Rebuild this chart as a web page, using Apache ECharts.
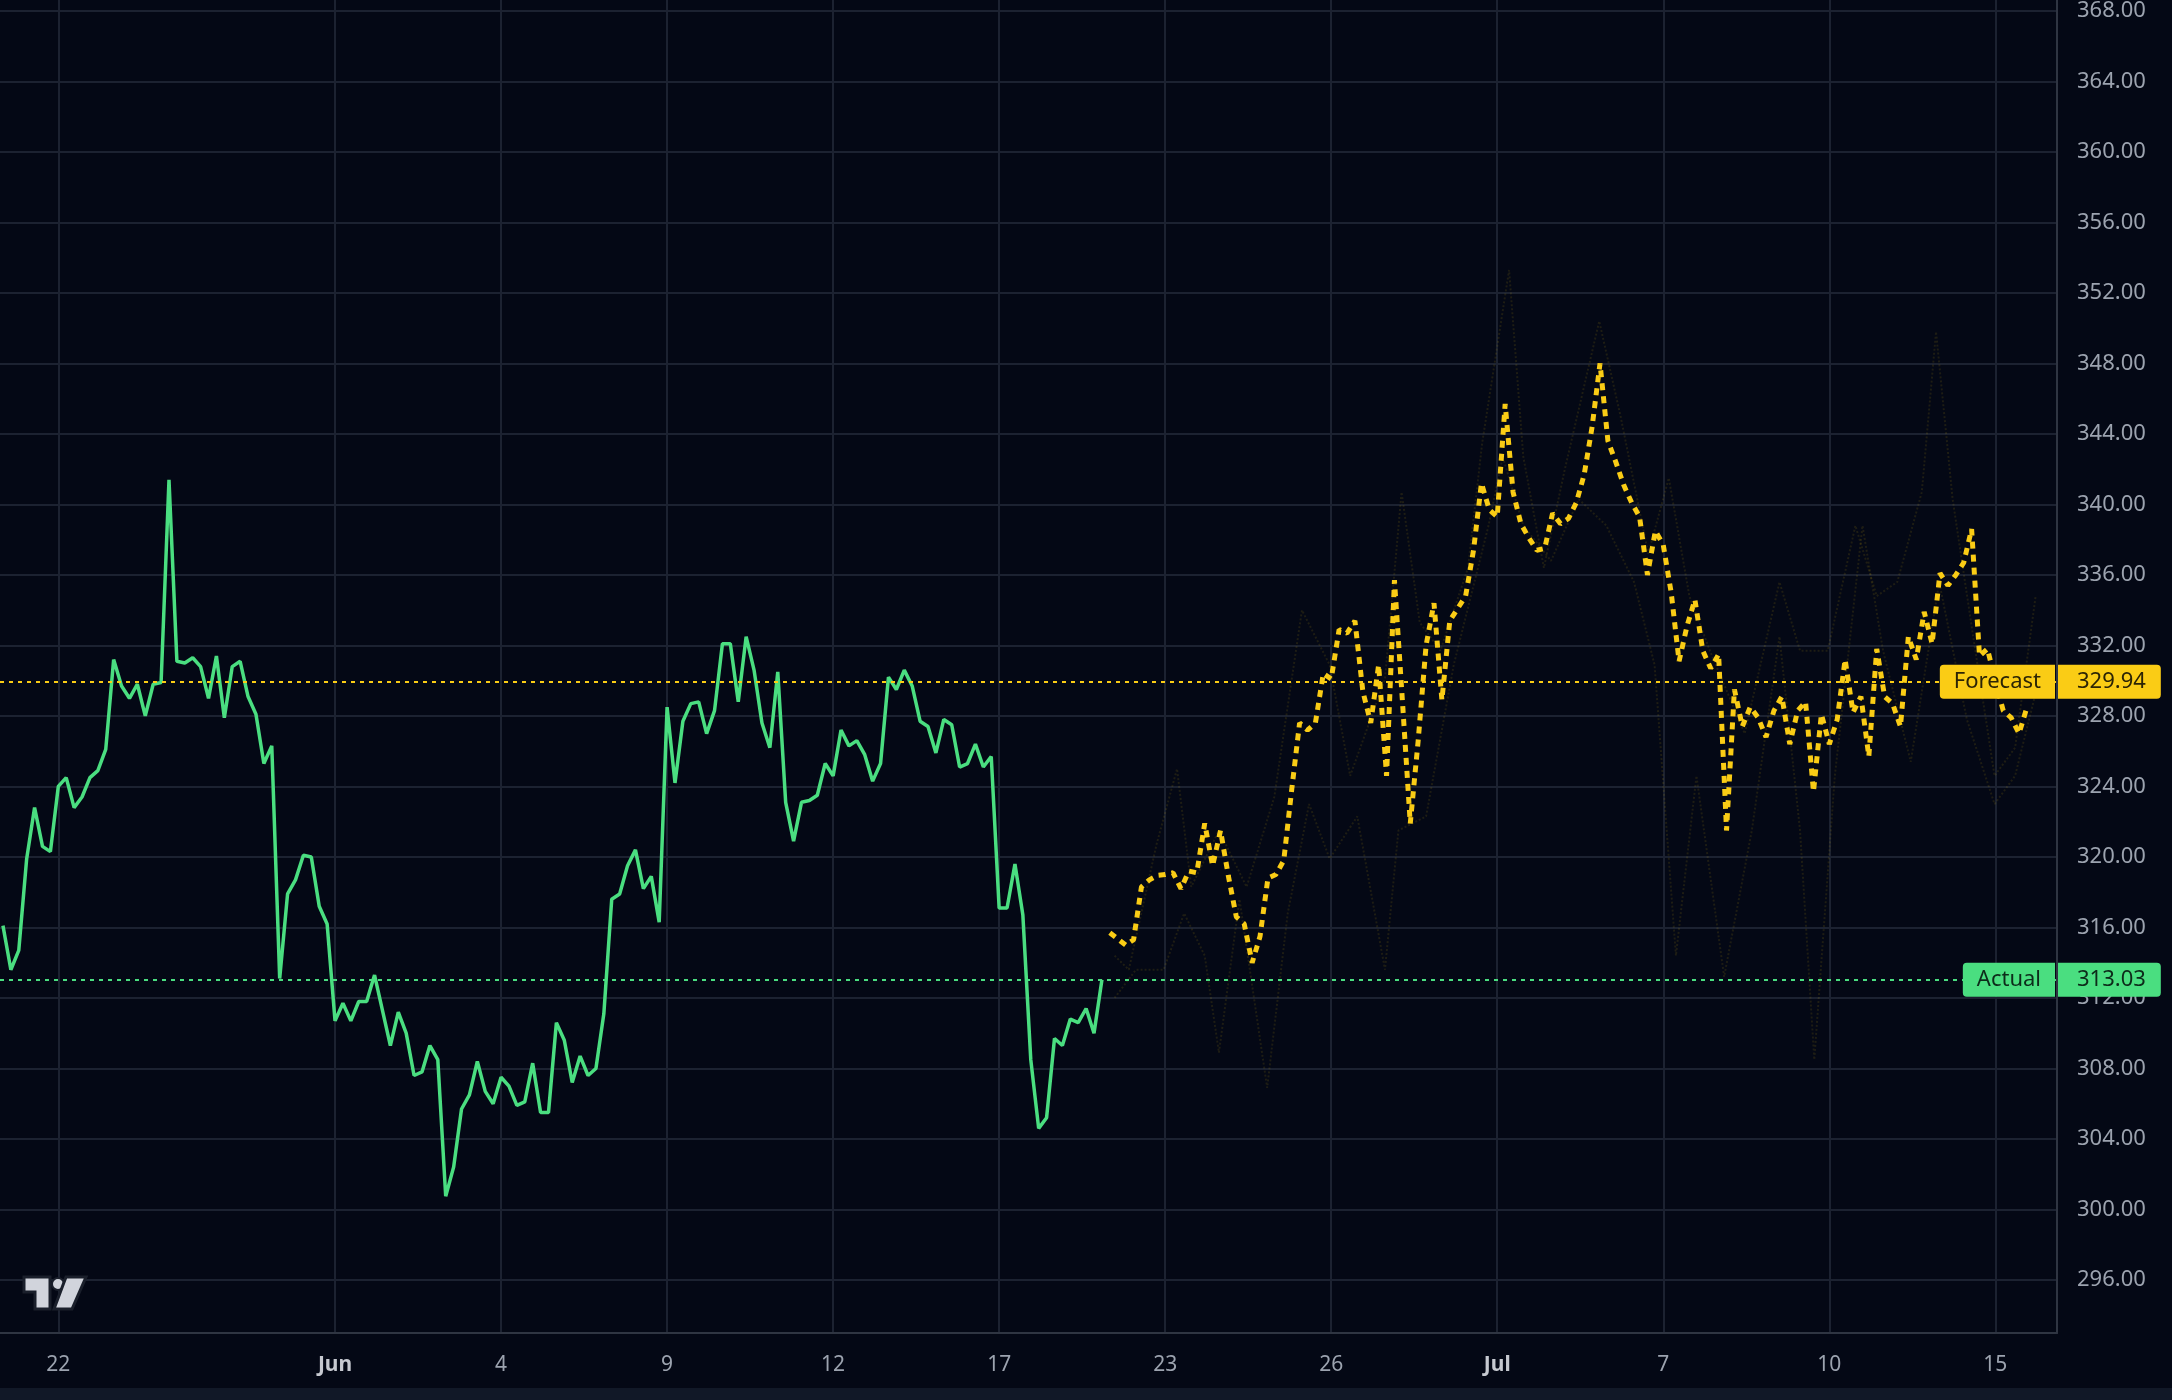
<!DOCTYPE html>
<html><head><meta charset="utf-8">
<script src="https://cdn.jsdelivr.net/npm/echarts@6/dist/echarts.min.js"></script>
<style>html,body{margin:0;padding:0;background:#040815;overflow:hidden}#c{width:2172px;height:1400px}</style>
</head><body><div id="c"></div>
<script>
// bar index (7 bars per trading day) -> price
const actual = [316.1,313.6,314.7,319.9,322.8,320.6,320.3,324.0,324.5,322.8,
323.4,324.5,324.9,326.1,331.2,329.7,329.0,329.8,328.0,329.8,
329.9,341.4,331.1,331.0,331.3,330.8,329.0,331.4,327.9,330.8,
331.1,329.1,328.1,325.3,326.3,313.1,317.9,318.7,320.1,320.0,
317.2,316.2,310.7,311.7,310.7,311.8,311.8,313.3,311.3,309.3,
311.2,310.0,307.6,307.8,309.3,308.5,300.75,302.4,305.7,306.5,
308.4,306.7,306.0,307.5,307.0,305.9,306.1,308.3,305.5,305.5,
310.6,309.6,307.2,308.7,307.6,308.0,311.1,317.6,317.9,319.5,
320.4,318.2,318.9,316.3,328.5,324.2,327.7,328.7,328.8,327.0,
328.3,332.1,332.1,328.8,332.5,330.6,327.6,326.2,330.5,323.1,
320.9,323.1,323.2,323.5,325.3,324.6,327.2,326.3,326.6,325.8,
324.3,325.3,330.2,329.5,330.6,329.7,327.7,327.4,325.9,327.8,
327.5,325.1,325.3,326.4,325.1,325.7,317.1,317.1,319.6,316.7,
308.5,304.6,305.2,309.7,309.3,310.8,310.6,311.4,310.0,313.03];
const forecastStart = 140;
const forecast = [315.7,315.35,315.0,315.3,318.3,318.7,318.95,319.0,319.1,318.2,
319.2,319.1,321.9,319.5,321.5,318.9,316.6,316.2,314.0,315.5,
318.8,319.0,319.8,323.8,327.6,327.2,327.6,330.4,330.1,332.9,
332.7,333.4,329.4,327.6,330.9,324.6,335.7,328.9,321.9,326.6,
332.0,334.4,328.9,333.4,334.1,334.8,337.4,341.2,339.7,339.3,
345.7,340.7,338.9,338.1,337.4,337.5,339.5,338.9,339.2,340.1,
341.7,344.4,348.0,343.6,342.4,341.1,340.1,339.3,336.0,338.5,
337.7,335.0,331.1,333.1,334.6,331.7,330.7,331.5,321.5,329.5,
327.4,328.5,327.9,326.8,328.3,329.1,326.4,328.3,328.8,323.7,
328.1,326.4,327.8,331.2,328.2,329.1,325.7,331.8,329.1,328.7,
327.4,332.5,331.2,333.9,332.1,336.1,335.4,336.0,336.7,338.6,
331.4,331.8,330.0,328.3,327.9,327.0,328.5];
// faint forecast range lines: [bar index, price]
const bandUpper = [[140.6,314.4],[142.4,313.6],[145.9,320.7],[148.5,325.0],[150.3,318.3],[153.8,321.5],[157.3,318.3],[160.8,323.4],[164.3,334.0],[167.8,330.9],[170.4,324.6],[174.8,330.1],[176.9,340.7],[179.2,333.3],[181.8,331.7],[185.3,336.4],[187.1,343.5],[190.5,353.3],[192.3,342.7],[194.9,336.4],[197.5,341.9],[201.9,350.4],[204.6,345.0],[208.1,337.2],[210.7,341.5],[213.3,334.8],[215.9,331.7],[220.3,327.0],[224.7,335.6],[227.3,331.7],[230.8,331.7],[234.3,338.8],[237.0,334.8],[239.6,335.6],[242.7,340.7],[244.5,349.8],[246.6,340.3],[249.2,332.5],[251.9,324.6],[254.5,326.2],[257.1,334.8]];
const bandLower = [[140.6,312.0],[143.3,313.6],[146.8,313.6],[149.4,316.8],[152.0,314.4],[153.8,308.9],[156.4,317.6],[159.9,306.9],[162.5,316.8],[165.2,323.0],[167.8,319.9],[171.3,322.3],[174.8,313.6],[176.5,321.5],[180.0,322.3],[183.5,330.9],[187.9,338.8],[189.7,342.7],[192.3,338.8],[195.8,336.8],[199.3,340.3],[202.8,338.8],[206.3,335.6],[208.9,330.9],[211.6,314.4],[214.2,324.6],[217.7,313.2],[221.2,321.5],[224.7,332.5],[227.3,321.5],[229.1,308.5],[231.7,324.6],[235.2,338.8],[237.8,331.7],[241.3,325.4],[244.9,335.6],[248.4,327.8],[251.9,323.0],[254.5,324.6],[257.1,329.3]];
const xTickPos = [7,42,63,84,105,126,147,168,189,210,231,252];
const xTickLabels = ['22','Jun','4','9','12','17','23','26','Jul','7','10','15'];
const monthLabels = ['Jun','Jul'];
const yTicks = [296,300,304,308,312,316,320,324,328,332,336,340,344,348,352,356,360,364,368];
const forecastLast = 329.94;
const actualLast = 313.03;

const FONT = "'Noto Sans', 'DejaVu Sans', sans-serif";
const GREEN = '#4ade80', YELLOW = '#facc15';
const chart = echarts.init(document.getElementById('c'), null, {renderer:'canvas'});
const xMin = -0.374, xMax = 259.8;
chart.setOption({
  backgroundColor:'#040815',
  animation:false,
  grid:{left:0,right:115,top:0,bottom:67,containLabel:false,outerBoundsMode:'none'},
  xAxis:{type:'value',min:xMin,max:xMax,
    axisLine:{show:true,onZero:false,lineStyle:{color:'#2f3542',width:2}},
    axisTick:{show:false,customValues:xTickPos},
    splitLine:{show:true,lineStyle:{color:'#1c2231',width:2}},
    axisLabel:{customValues:xTickPos,margin:22,color:'#9ca3af',fontSize:21,fontFamily:FONT,
      formatter:function(v){const k=xTickPos.indexOf(Math.round(v));const t=xTickLabels[k];return monthLabels.indexOf(t)>=0?'{m|'+t+'}':t;},
      rich:{m:{fontWeight:'bold',color:'#c6c9d0',fontSize:21,fontFamily:FONT}}}
  },
  yAxis:{type:'value',position:'right',min:292.99,max:368.62,scale:true,
    axisLine:{show:true,onZero:false,lineStyle:{color:'#2f3542',width:2}},
    axisTick:{show:false,customValues:yTicks},
    splitLine:{show:true,lineStyle:{color:'#1c2231',width:2}},
    axisLabel:{customValues:yTicks,margin:20,color:'#9ca3af',fontSize:22,fontFamily:FONT,align:'left',
      formatter:function(v){return v.toFixed(2);}}
  },
  series:[
    {type:'line',data:bandUpper,symbol:'none',silent:true,z:1,lineStyle:{color:'rgba(250,204,21,0.11)',width:2,type:'dotted'}},
    {type:'line',data:bandLower,symbol:'none',silent:true,z:1,lineStyle:{color:'rgba(250,204,21,0.11)',width:2,type:'dotted'}},
    {type:'line',data:actual.map((v,i)=>[i,v]),symbol:'none',z:3,lineStyle:{color:GREEN,width:3.5},
      markLine:{silent:true,symbol:'none',label:{show:false},lineStyle:{color:GREEN,width:2,type:[4,5]},data:[{yAxis:actualLast}]}},
    {type:'line',data:forecast.map((v,k)=>[forecastStart+k,v]),symbol:'none',z:3,lineStyle:{color:YELLOW,width:5,type:[7,6]},
      markLine:{silent:true,symbol:'none',label:{show:false},lineStyle:{color:YELLOW,width:2,type:[4,5]},data:[{yAxis:forecastLast}]}}
  ]
});

function priceTag(name,value,color,textColor){
  const y = chart.convertToPixel({yAxisIndex:0},value);
  const axisX = chart.convertToPixel({xAxisIndex:0},xMax);
  return [
    {type:'text',z:100,x:axisX-2,y:y,style:{text:name,fill:textColor,font:'22px '+FONT,align:'right',verticalAlign:'middle',
      backgroundColor:color,padding:[6,14,6,14],borderRadius:[4,0,0,4]}},
    {type:'text',z:100,x:axisX+1,y:y,style:{text:value.toFixed(2),fill:textColor,font:'22px '+FONT,align:'left',verticalAlign:'middle',
      backgroundColor:color,padding:[6,15,6,19],borderRadius:[0,4,4,0]}}
  ];
}
const logo = {type:'group',z:100,x:0,y:0,children:[
  {type:'polygon',shape:{points:[[24,1277],[50,1277],[50,1309],[35,1309],[35,1292],[24,1292]]},style:{fill:'#d1d4dc',stroke:'#1a1f2b',lineWidth:3}},
  {type:'circle',shape:{cx:58,cy:1284,r:6},style:{fill:'#d1d4dc',stroke:'#1a1f2b',lineWidth:2}},
  {type:'polygon',shape:{points:[[66,1277],[86,1277],[72,1309],[54,1309]]},style:{fill:'#d1d4dc',stroke:'#1a1f2b',lineWidth:3}}
]};
chart.setOption({graphic:[].concat(
  [{type:'rect',z:90,shape:{x:0,y:1388,width:2172,height:12},style:{fill:'#111827'}}],
  priceTag('Forecast',forecastLast,YELLOW,'#2b2405'),
  priceTag('Actual',actualLast,GREEN,'#0d2b1a'),
  [logo]
)});
</script></body></html>
